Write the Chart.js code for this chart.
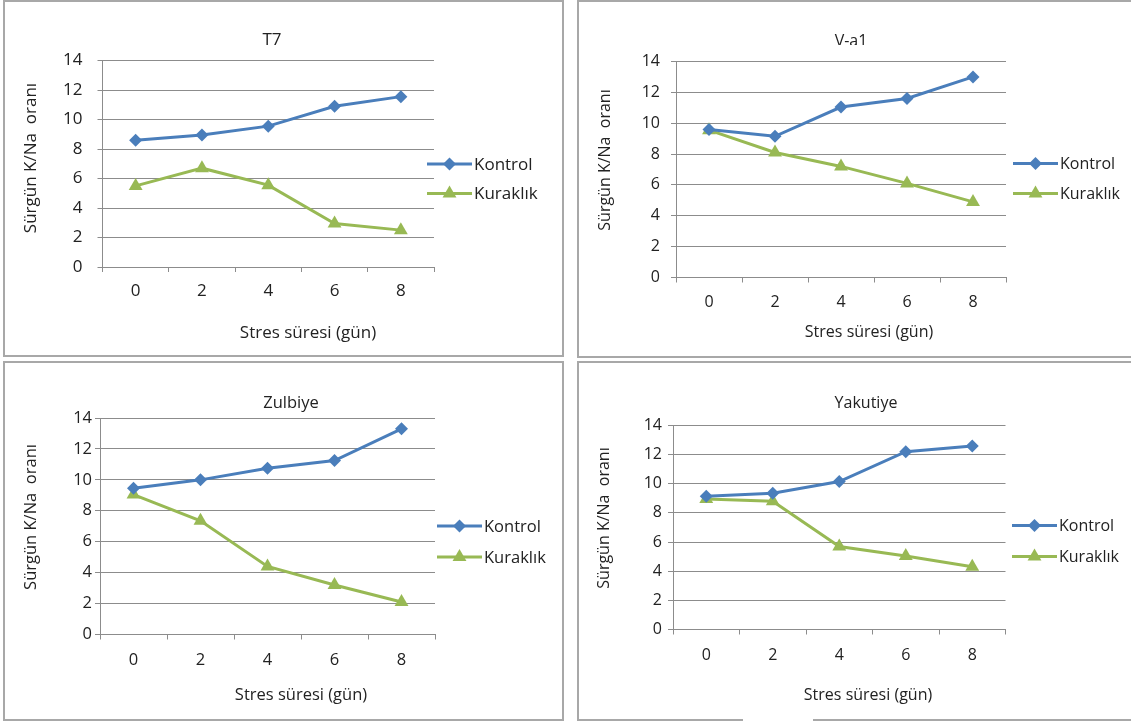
<!DOCTYPE html>
<html>
<head>
<meta charset="utf-8">
<script src="https://cdn.jsdelivr.net/npm/chart.js@4/dist/chart.umd.min.js"></script>
<style>
  html, body { margin: 0; padding: 0; background: #ffffff; }
  body { width: 1131px; height: 722px; position: relative; overflow: hidden; }
  .panel { position: absolute; box-sizing: border-box; border: 2px solid #a8a8a8; }
  .gap { position: absolute; background: #ffffff; }
  canvas { position: absolute; left: 0; top: 0; }
</style>
</head>
<body>
<div class="panel" style="left:3px;top:0px;width:561px;height:357px;"></div>
<div class="panel" style="left:577px;top:0px;width:570px;height:358px;"></div>
<div class="panel" style="left:3px;top:361px;width:561px;height:360px;"></div>
<div class="panel" style="left:577px;top:361px;width:570px;height:360px;"></div>
<div class="gap" style="left:743px;top:716px;width:70px;height:6px;"></div>
<canvas id="cT7" width="1131" height="722"></canvas>
<canvas id="cVa1" width="1131" height="722"></canvas>
<canvas id="cZul" width="1131" height="722"></canvas>
<canvas id="cYak" width="1131" height="722"></canvas>
<script>
// Stress duration (days) on the x axis
const days = ['0', '2', '4', '6', '8'];
const yTickMin = 0;
const yTickMax = 14;
const yTickStep = 2;

const seriesNames = ['Kontrol', 'Kuraklık'];

// Shoot K/Na ratio per cultivar
const t7Kontrol = [8.6, 8.95, 9.55, 10.9, 11.55];
const t7Kuraklik = [5.5, 6.7, 5.55, 2.95, 2.5];

const va1Kontrol = [9.6, 9.15, 11.05, 11.6, 13.0];
const va1Kuraklik = [9.55, 8.1, 7.2, 6.1, 4.9];

const zulKontrol = [9.45, 10.0, 10.75, 11.25, 13.3];
const zulKuraklik = [9.05, 7.35, 4.4, 3.2, 2.1];

const yakKontrol = [9.15, 9.35, 10.15, 12.2, 12.6];
const yakKuraklik = [8.95, 8.8, 5.7, 5.05, 4.3];

const W = 1131, H = 722;
const BLUE = '#4a7ebb';
const GREEN = '#98b954';
const GRID = '#8c8c8c';
const TEXT = '#222222';
const FAMILY = '"Open Sans", Lato, sans-serif';

// Draws the panel title, axis titles and the legend at fixed spots
const panelText = {
  id: 'panelText',
  afterDraw(chart, args, o) {
    const ctx = chart.ctx;
    ctx.save();
    ctx.fillStyle = TEXT;
    ctx.font = o.fs + 'px ' + FAMILY;
    ctx.textAlign = 'center';
    ctx.textBaseline = 'middle';

    ctx.save();
    if (o.titleClip) {
      ctx.beginPath();
      ctx.rect(0, 0, W, o.titleClip);
      ctx.clip();
    }
    ctx.fillText(o.title, o.titleX, o.titleY);
    ctx.restore();

    ctx.fillText('Stres süresi (gün)', o.xTitleX, o.xTitleY);

    ctx.save();
    ctx.translate(o.yTitleX, o.yTitleY);
    ctx.rotate(-Math.PI / 2);
    ctx.fillText('Sürgün K/Na  oranı', 0, 0);
    ctx.restore();

    // legend
    ctx.textAlign = 'left';
    chart.data.datasets.forEach((ds, i) => {
      const y = i === 0 ? o.legY1 : o.legY2;
      ctx.strokeStyle = ds.borderColor;
      ctx.lineWidth = ds.borderWidth;
      ctx.beginPath();
      ctx.moveTo(o.legX, y);
      ctx.lineTo(o.legX + 45, y);
      ctx.stroke();
      ctx.fillStyle = ds.backgroundColor;
      Chart.helpers.drawPoint(ctx, {
        pointStyle: ds.pointStyle, radius: ds.pointRadius, rotation: 0, borderWidth: 0
      }, o.legX + 22.5, y);
      ctx.fillStyle = TEXT;
      ctx.fillText(ds.label, o.legX + 47, y + 1);
    });
    ctx.restore();
  }
};

function makeChart(id, title, kontrol, kuraklik, g) {
  const font = { family: FAMILY, size: g.fs };
  return new Chart(document.getElementById(id), {
    type: 'line',
    data: {
      labels: days,
      datasets: [
        {
          label: seriesNames[0], data: kontrol,
          borderColor: BLUE, backgroundColor: BLUE, borderWidth: 3,
          pointStyle: 'rectRot', pointRadius: 6.5, pointHoverRadius: 6.5,
          pointBorderWidth: 0, tension: 0
        },
        {
          label: seriesNames[1], data: kuraklik,
          borderColor: GREEN, backgroundColor: GREEN, borderWidth: 3,
          pointStyle: 'triangle', pointRadius: 8, pointHoverRadius: 8,
          pointBorderWidth: 0, tension: 0
        }
      ]
    },
    options: {
      responsive: false,
      animation: false,
      devicePixelRatio: 1,
      events: [],
      layout: { padding: { left: 0, top: g.top, right: W - g.right, bottom: 0 } },
      plugins: {
        legend: { display: false },
        title: { display: false },
        tooltip: { enabled: false },
        panelText: Object.assign({ title: title }, g)
      },
      scales: {
        x: {
          type: 'category',
          offset: true,
          grid: { offset: true, drawOnChartArea: false, drawTicks: true, tickLength: 5, color: GRID },
          border: { color: GRID, width: 1 },
          ticks: { padding: g.xPad, font: font, color: TEXT, maxRotation: 0 },
          afterFit: s => { s.height = H - g.bottom; }
        },
        y: {
          min: yTickMin, max: yTickMax,
          grid: { color: GRID, tickLength: 5 },
          border: { color: GRID, width: 1 },
          ticks: { stepSize: yTickStep, padding: g.yPad, font: font, color: TEXT },
          afterFit: s => { s.width = g.left; }
        }
      }
    },
    plugins: [panelText]
  });
}

makeChart('cT7', 'T7', t7Kontrol, t7Kuraklik, {
  fs: 17,
  left: 102.5, right: 434, top: 60.5, bottom: 267,
  xPad: 9, yPad: 15,
  titleX: 272, titleY: 40,
  xTitleX: 308, xTitleY: 333, yTitleX: 31, yTitleY: 158,
  legX: 427, legY1: 164, legY2: 193.5
});
makeChart('cVa1', 'V-a1', va1Kontrol, va1Kuraklik, {
  fs: 16,
  left: 676, right: 1006, top: 61.5, bottom: 277.5,
  xPad: 10, yPad: 11,
  titleX: 851, titleY: 41, titleClip: 45,
  xTitleX: 869, xTitleY: 332, yTitleX: 605, yTitleY: 160,
  legX: 1013, legY1: 163.5, legY2: 193.5
});
makeChart('cZul', 'Zulbiye', zulKontrol, zulKuraklik, {
  fs: 16.5,
  left: 100, right: 435, top: 418, bottom: 634.5,
  xPad: 11, yPad: 3,
  titleX: 291, titleY: 403,
  xTitleX: 301, xTitleY: 695, yTitleX: 31, yTitleY: 517,
  legX: 437, legY1: 526, legY2: 557
});
makeChart('cYak', 'Yakutiye', yakKontrol, yakKuraklik, {
  fs: 16,
  left: 673, right: 1005.5, top: 425.5, bottom: 629.5,
  xPad: 11, yPad: 6,
  titleX: 866, titleY: 403,
  xTitleX: 868, xTitleY: 695, yTitleX: 604, yTitleY: 518,
  legX: 1012, legY1: 525.5, legY2: 556.5
});
</script>
</body>
</html>
